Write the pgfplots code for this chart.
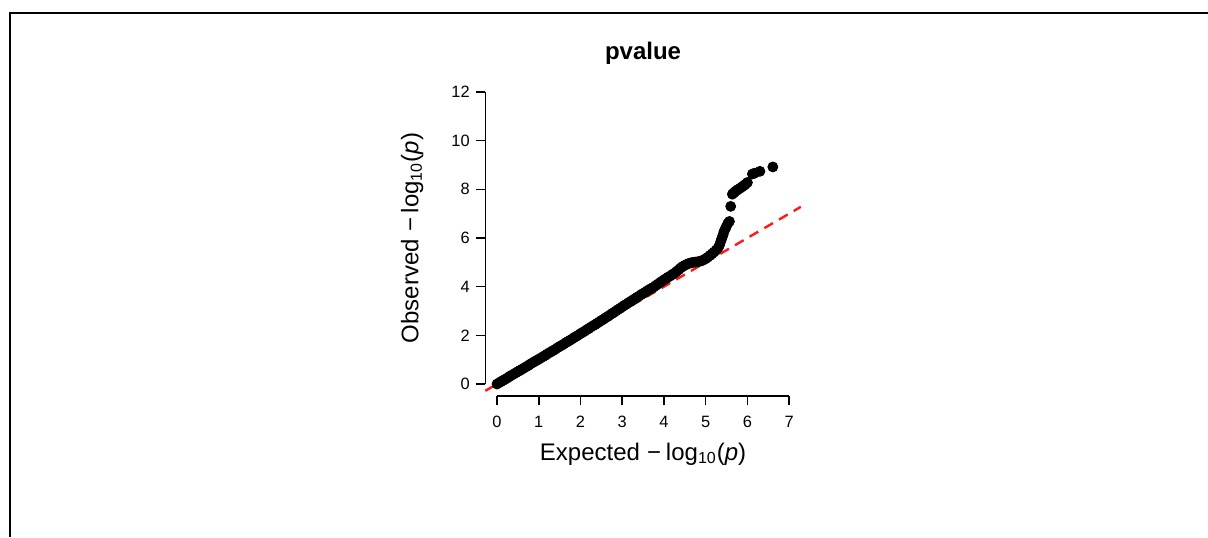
\documentclass[border=0pt]{standalone}
\usepackage{pgfplots}
\pgfplotsset{compat=1.18}
\usepackage{fontspec}
\setmainfont{Liberation Sans}

% QQ points: expected vs observed -log10(p)
\begin{document}
\begin{tikzpicture}
\path[use as bounding box] (0,0) rectangle (604pt,268.5pt);
\draw[line width=1pt] (4.75pt,0) -- (4.75pt,262pt) -- (604pt,262pt);
\begin{axis}[
    at={(242.65pt,70.65pt)}, anchor=south west,
    scale only axis, width=157.75pt, height=157.7pt,
    xmin=-0.28, xmax=7.28, ymin=-0.48, ymax=12.48,
    axis x line*=bottom, axis y line*=left,
    x axis line style={draw=none}, y axis line style={draw=none},
    xtick={0,1,...,7}, ytick={0,2,...,12},
    tick align=outside, major tick length=4.8pt,
    tick style={line width=0.8pt, black},
    /pgf/number format/assume math mode=true,
    ticklabel style={font=\fontsize{8.2}{9.6}\selectfont},
    xticklabel style={yshift=-2pt},
    yticklabel style={xshift=0.5pt},
    every axis title shift=0pt,
    title={pvalue},
    title style={at={(axis description cs:0.5,1.087)}, anchor=center,
                 font=\bfseries\fontsize{12}{14}\selectfont},
    xlabel={Expected\hspace{0.3em}−\hspace{0.2em}log\textsubscript{10}(\textit{p})},
    ylabel={Observed\hspace{0.3em}−\hspace{0.2em}log\textsubscript{10}(\textit{p})},
    xlabel style={at={(axis description cs:0.5,-0.185)}, anchor=center,
                  font=\fontsize{12}{14}\selectfont},
    ylabel style={at={(axis description cs:-0.232,0.5)}, anchor=center,
                  font=\fontsize{12}{14}\selectfont},
    clip=false,
]
\draw[line width=0.8pt] (axis cs:0,-0.48) -- (axis cs:7,-0.48);
\draw[line width=0.8pt] (axis cs:-0.28,0) -- (axis cs:-0.28,12);
\addplot[red!90!white, line width=1.2pt, dash pattern=on 5pt off 3.5pt] coordinates {(-0.28,-0.28) (7.28,7.28)};
\addplot[only marks, mark=*, mark size=2.5pt, black, mark options={fill=black, draw=black}] table {
x y
0.00 0.00
0.05 0.05
0.10 0.10
0.15 0.15
0.20 0.20
0.25 0.25
0.30 0.31
0.35 0.36
0.40 0.41
0.45 0.46
0.50 0.51
0.55 0.56
0.60 0.61
0.65 0.66
0.70 0.71
0.75 0.76
0.80 0.82
0.85 0.87
0.90 0.92
0.95 0.97
1.00 1.02
1.05 1.07
1.10 1.12
1.15 1.17
1.20 1.23
1.25 1.28
1.30 1.33
1.35 1.38
1.40 1.43
1.45 1.49
1.50 1.54
1.55 1.59
1.60 1.64
1.65 1.70
1.70 1.75
1.75 1.80
1.80 1.85
1.85 1.91
1.90 1.96
1.95 2.01
2.00 2.07
2.05 2.12
2.10 2.17
2.15 2.23
2.20 2.28
2.25 2.34
2.30 2.39
2.35 2.44
2.40 2.50
2.45 2.55
2.50 2.61
2.55 2.66
2.60 2.72
2.65 2.77
2.70 2.83
2.75 2.89
2.80 2.94
2.85 3.00
2.90 3.06
2.95 3.11
3.00 3.17
3.05 3.23
3.10 3.28
3.15 3.34
3.20 3.39
3.25 3.45
3.30 3.50
3.35 3.56
3.40 3.61
3.45 3.67
3.50 3.72
3.55 3.77
3.60 3.83
3.65 3.88
3.70 3.93
3.75 3.98
3.80 4.04
3.85 4.10
3.90 4.16
3.95 4.22
4.00 4.28
4.05 4.33
4.10 4.39
4.15 4.44
4.20 4.50
4.25 4.55
4.30 4.62
4.35 4.69
4.40 4.77
4.45 4.83
4.50 4.88
4.55 4.92
4.60 4.96
4.65 4.98
4.70 5.00
4.75 5.01
4.80 5.02
4.85 5.04
4.90 5.06
4.95 5.10
5.00 5.15
5.05 5.21
5.10 5.28
5.15 5.35
5.20 5.42
5.25 5.50
5.30 5.60
5.33 5.70
5.36 5.85
5.38 5.95
5.40 6.05
5.42 6.15
5.44 6.27
5.47 6.38
5.49 6.45
5.53 6.60
5.57 6.68
5.60 7.30
5.64 7.80
5.67 7.85
5.70 7.90
5.74 7.95
5.78 8.00
5.83 8.05
5.87 8.10
5.91 8.15
5.95 8.20
6.00 8.28
6.12 8.63
6.17 8.66
6.30 8.74
6.61 8.92
};
\end{axis}
\end{tikzpicture}
\end{document}
